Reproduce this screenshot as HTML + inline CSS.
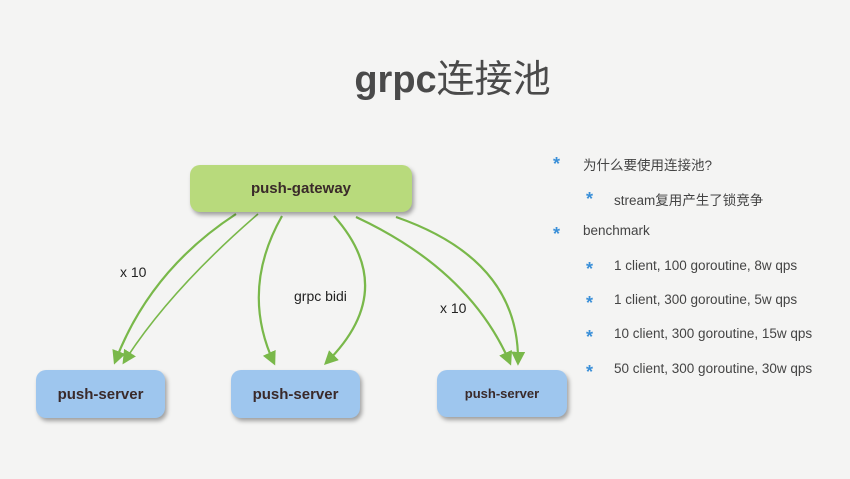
<!DOCTYPE html>
<html><head><meta charset="utf-8"><style>
body{margin:0;width:850px;height:479px;background:#f4f4f3;position:relative;overflow:hidden;font-family:"Liberation Sans","Noto Sans CJK SC",sans-serif}
.t{position:absolute;left:0;width:850px;top:48px;text-align:center;font-size:38px;color:#4a4a4a;padding-left:55px;box-sizing:border-box}
.t b{font-weight:bold}
.box{position:absolute;border-radius:10px;display:flex;align-items:center;justify-content:center;font-weight:bold;color:#3a2a2a;box-shadow:2px 3px 4px rgba(0,0,0,.35)}
.g{background:#b8da7c;left:190px;top:165px;width:222px;height:47px;font-size:15px}
.s{background:#9ec6ee;top:370px;width:129px;height:48px;font-size:15px}
.l{position:absolute;font-size:14px;color:#222}
.li{position:absolute;font-size:13.5px;color:#444}
.st{position:absolute;color:#3a8fd8;font-size:18px;font-weight:bold}
</style></head><body>
<div class="t"><b>grpc</b>连接池</div>
<svg width="850" height="479" style="position:absolute;left:0;top:0">
<defs>
<marker id="b" viewBox="0 0 10 10" markerWidth="14" markerHeight="14" refX="8" refY="5" orient="auto" markerUnits="userSpaceOnUse"><path d="M0,0 L10,5 L0,10Z" fill="#79b84a"/></marker></defs>
<g fill="none" stroke="#79b84a" stroke-width="2.2">
<path d="M236,214 Q150,270 115,362" marker-end="url(#b)"/>
<path d="M258,214 Q170,290 124,362" stroke-width="1.6" marker-end="url(#b)"/>
<path d="M282,216 Q240,290 274,363" marker-end="url(#b)"/>
<path d="M334,216 Q400,290 326,363" marker-end="url(#b)"/>
<path d="M356,217 Q470,270 510,363" marker-end="url(#b)"/>
<path d="M396,217 Q520,260 518,363" marker-end="url(#b)"/>
</g></svg>
<div class="box g">push-gateway</div>
<div class="box s" style="left:36px">push-server</div>
<div class="box s" style="left:231px">push-server</div>
<div class="box s" style="left:437px;width:130px;height:47px;font-size:13px">push-server</div>
<div class="l" style="left:120px;top:264px">x 10</div>
<div class="l" style="left:294px;top:288px">grpc bidi</div>
<div class="l" style="left:440px;top:300px">x 10</div>
<div class="st" style="left:553px;top:154px">*</div><div class="li" style="left:583px;top:154px">为什么要使用连接池?</div>
<div class="st" style="left:586px;top:189px">*</div><div class="li" style="left:614px;top:189px">stream复用产生了锁竞争</div>
<div class="st" style="left:553px;top:224px">*</div><div class="li" style="left:583px;top:223px">benchmark</div>
<div class="st" style="left:586px;top:259px">*</div><div class="li" style="left:614px;top:258px">1 client, 100 goroutine, 8w qps</div>
<div class="st" style="left:586px;top:293px">*</div><div class="li" style="left:614px;top:292px">1 client, 300 goroutine, 5w qps</div>
<div class="st" style="left:586px;top:327px">*</div><div class="li" style="left:614px;top:326px">10 client, 300 goroutine, 15w qps</div>
<div class="st" style="left:586px;top:362px">*</div><div class="li" style="left:614px;top:361px">50 client, 300 goroutine, 30w qps</div>
</body></html>
